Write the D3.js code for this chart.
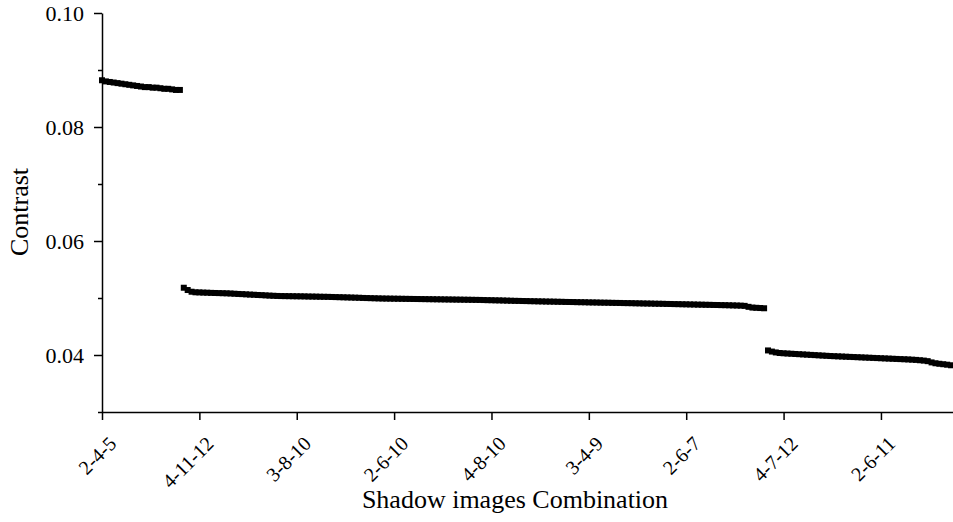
<!DOCTYPE html>
<html>
<head>
<meta charset="utf-8">
<script src="https://cdn.jsdelivr.net/npm/d3@7"></script>
<style>
  body { margin: 0; background: #fff; }
  svg { display: block; }
</style>
</head>
<body>
<div id="chart"></div>
<script>
// Contrast of each shadow image combination, sorted
const contrastHigh = [
    0.0882, 0.0880, 0.0879, 0.0878, 0.0877, 0.0876, 0.0875, 0.0874, 0.0873, 0.0872,
    0.0871, 0.0870, 0.0870, 0.0869, 0.0869, 0.0868, 0.0867, 0.0867, 0.0866, 0.0865,
    0.0865
];
const contrastMid = [
    0.0518, 0.0514, 0.0511, 0.0510, 0.05098, 0.05095, 0.05093, 0.05090, 0.05088, 0.05086,
    0.05084, 0.05082, 0.05079, 0.05075, 0.05071, 0.05068, 0.05064, 0.05060, 0.05057, 0.05053,
    0.05050, 0.05046, 0.05042, 0.05039, 0.05036, 0.05034, 0.05033, 0.05032, 0.05031, 0.05030,
    0.05029, 0.05028, 0.05026, 0.05025, 0.05024, 0.05022, 0.05021, 0.05020, 0.05018, 0.05016,
    0.05014, 0.05012, 0.05010, 0.05008, 0.05006, 0.05004, 0.05001, 0.04999, 0.04997, 0.04995,
    0.04993, 0.04991, 0.04990, 0.04989, 0.04988, 0.04987, 0.04986, 0.04985, 0.04984, 0.04983,
    0.04982, 0.04981, 0.04980, 0.04979, 0.04978, 0.04977, 0.04976, 0.04975, 0.04974, 0.04973,
    0.04972, 0.04971, 0.04970, 0.04969, 0.04968, 0.04967, 0.04966, 0.04964, 0.04962, 0.04961,
    0.04959, 0.04958, 0.04956, 0.04954, 0.04952, 0.04950, 0.04949, 0.04947, 0.04946, 0.04944,
    0.04943, 0.04941, 0.04940, 0.04938, 0.04937, 0.04936, 0.04934, 0.04933, 0.04931, 0.04930,
    0.04929, 0.04927, 0.04926, 0.04925, 0.04923, 0.04922, 0.04921, 0.04919, 0.04918, 0.04917,
    0.04915, 0.04914, 0.04913, 0.04911, 0.04910, 0.04909, 0.04907, 0.04906, 0.04904, 0.04903,
    0.04902, 0.04900, 0.04899, 0.04898, 0.04896, 0.04895, 0.04893, 0.04892, 0.04890, 0.04889,
    0.04887, 0.04886, 0.04884, 0.04883, 0.04881, 0.04880, 0.04878, 0.04877, 0.04875, 0.04874,
    0.04872, 0.04870, 0.04868, 0.04866, 0.04862, 0.04845, 0.04832, 0.04828, 0.04824, 0.04820
];
const contrastLow = [
    0.0408, 0.0406, 0.04045, 0.04035, 0.04030, 0.04026, 0.04022, 0.04018, 0.04014, 0.04010,
    0.04006, 0.04002, 0.03998, 0.03994, 0.03990, 0.03986, 0.03982, 0.03979, 0.03976, 0.03973,
    0.03970, 0.03967, 0.03964, 0.03961, 0.03958, 0.03955, 0.03952, 0.03949, 0.03946, 0.03943,
    0.03940, 0.03937, 0.03934, 0.03931, 0.03928, 0.03925, 0.03922, 0.03918, 0.03914, 0.03908,
    0.03902, 0.03892, 0.03870, 0.03855, 0.03846, 0.03838, 0.03830, 0.03820
];

// x tick labels, one every 25 combinations
const tickIndex = [0, 25, 50, 75, 100, 125, 150, 175, 200];
const tickLabels = ["2-4-5", "4-11-12", "3-8-10", "2-6-10", "4-8-10", "3-4-9", "2-6-7", "4-7-12", "2-6-11"];

const yMajor = [0.04, 0.06, 0.08, 0.10];
const yMinor = [0.03, 0.05, 0.07, 0.09];

const contrast = contrastHigh.concat(contrastMid, contrastLow);
const data = contrast.map((v, i) => ({ i: i, v: v }));

const width = 953;
const height = 522;
const margin = { top: 13, right: 0, bottom: 110, left: 102 };
const serif = '"Liberation Serif", "Times New Roman", serif';

const svg = d3.select("#chart")
    .append("svg")
    .attr("width", width)
    .attr("height", height);

const x = d3.scaleLinear()
    .domain([0, 218.5])
    .range([margin.left, width - margin.right]);

const y = d3.scaleLinear()
    .domain([0.03, 0.10])
    .range([height - margin.bottom, margin.top]);

// y axis: major + minor ticks
const yAxis = svg.append("g")
    .attr("transform", `translate(${margin.left},0)`)
    .call(d3.axisLeft(y).tickValues(yMajor).tickFormat(d3.format(".2f")).tickSize(8).tickPadding(10).tickSizeOuter(0));
yAxis.selectAll("text")
    .style("font-family", serif)
    .style("font-size", "22px")
    .attr("fill", "#000");

svg.append("g")
    .attr("transform", `translate(${margin.left},0)`)
    .call(d3.axisLeft(y).tickValues(yMinor).tickFormat("").tickSize(4).tickSizeOuter(0))
    .select(".domain").remove();

// x axis
const xAxis = svg.append("g")
    .attr("transform", `translate(0,${height - margin.bottom})`)
    .call(d3.axisBottom(x).tickValues(tickIndex).tickFormat((d, k) => tickLabels[k]).tickSize(8).tickSizeOuter(0));
xAxis.selectAll("text")
    .style("font-family", serif)
    .style("font-size", "20px")
    .attr("fill", "#000")
    .attr("text-anchor", "end")
    .attr("x", 0)
    .attr("y", 0)
    .attr("dy", 0)
    .attr("transform", "translate(15,33) rotate(-45)");

svg.selectAll(".domain, .tick line")
    .attr("stroke", "#000")
    .attr("stroke-width", 1.5);

// points drawn as small filled squares
const s = 6;
svg.append("g")
    .selectAll("rect")
    .data(data)
    .enter()
    .append("rect")
    .attr("x", d => x(d.i) - s / 2)
    .attr("y", d => y(d.v) - s / 2)
    .attr("width", s)
    .attr("height", s)
    .attr("fill", "#000");

// axis titles
svg.append("text")
    .attr("x", 515)
    .attr("y", 508)
    .attr("text-anchor", "middle")
    .style("font-family", serif)
    .style("font-size", "26px")
    .text("Shadow images Combination");

svg.append("text")
    .attr("transform", `translate(28,212) rotate(-90)`)
    .attr("text-anchor", "middle")
    .style("font-family", serif)
    .style("font-size", "26px")
    .text("Contrast");
</script>
</body>
</html>
